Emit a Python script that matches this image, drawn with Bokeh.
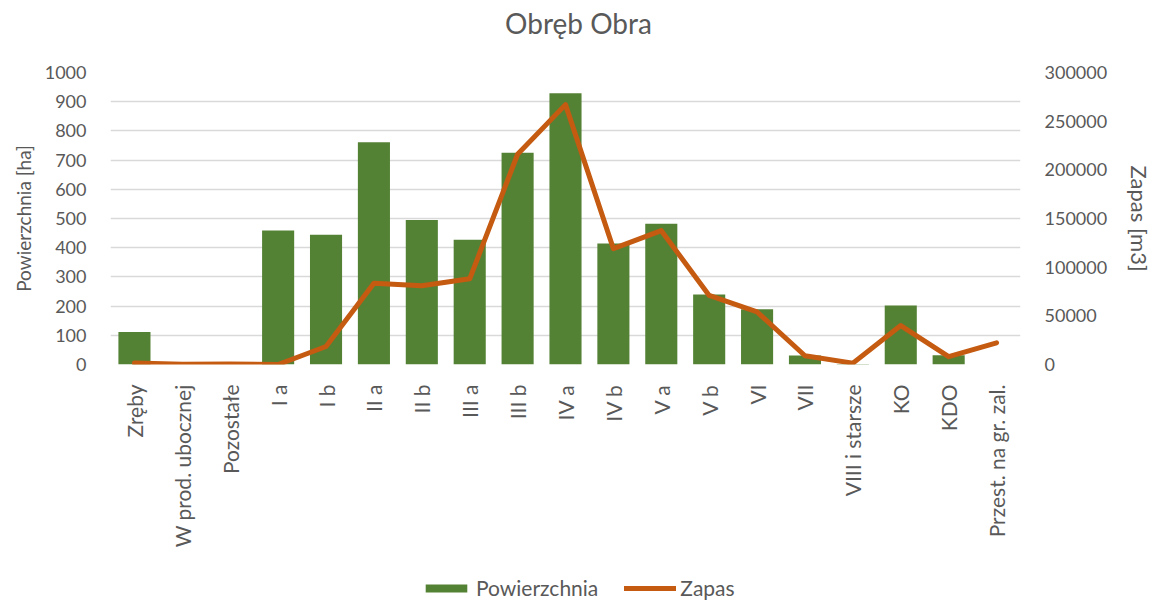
from bokeh.plotting import figure
from bokeh.layouts import column
from bokeh.models import (FactorRange, Range1d, LinearAxis, FixedTicker,
                          BasicTickFormatter, Legend, LegendItem, Label)
from bokeh.embed import file_html
from bokeh.resources import INLINE

title_text = "Obręb Obra"
categories = ["Zręby", "W prod. ubocznej", "Pozostałe", "I a", "I b", "II a", "II b",
              "III a", "III b", "IV a", "IV b", "V a", "V b", "VI", "VII",
              "VIII i starsze", "KO", "KDO", "Przest. na gr. zal."]
powierzchnia = [111, 0, 0, 459, 444, 761, 495, 427, 725, 929, 414, 482, 240, 189, 31, 2, 202, 32, 0]
zapas = [1500, 300, 500, 0, 18500, 83500, 81000, 88000, 216000, 267000, 119000, 137500,
         71000, 54000, 9000, 1400, 40000, 8000, 22300]
left_ticks = [0, 100, 200, 300, 400, 500, 600, 700, 800, 900, 1000]
right_ticks = [0, 50000, 100000, 150000, 200000, 250000, 300000]

FONT = "Lato"
GREY = "#595959"
GREEN = "#548235"
ORANGE = "#C55A11"


def strip(h):
    f = figure(x_range=Range1d(0, 1), y_range=Range1d(0, 1),
               frame_width=1145, frame_height=h, min_border=0,
               output_backend="svg", toolbar_location=None)
    f.axis.visible = False
    f.grid.visible = False
    f.outline_line_color = None
    return f


# title strip
tp = strip(58)
tp.add_layout(Label(x=468, y=36, x_units="screen", y_units="screen", text=title_text,
                    text_align="center", text_baseline="middle", text_font=FONT,
                    text_font_size="28px", text_color=GREY))

# main chart
p = figure(x_range=FactorRange(*categories, range_padding=0),
           y_range=Range1d(0, 1000),
           frame_width=910, frame_height=292,
           min_border_left=110, min_border_right=125, min_border_top=14, min_border_bottom=212,
           output_backend="svg", toolbar_location=None)

p.extra_y_ranges = {"zapas": Range1d(0, 300000)}

bars = p.vbar(x=categories, top=powierzchnia, width=0.67, fill_color=GREEN, line_color=None)
line = p.line(x=categories, y=zapas, y_range_name="zapas", line_width=5,
              color=ORANGE, line_join="round", line_cap="round")

p.outline_line_color = None
p.xgrid.grid_line_color = None
p.ygrid.grid_line_color = "#D9D9D9"
p.ygrid.grid_line_width = 1.3
p.ygrid.ticker = FixedTicker(ticks=left_ticks)

ya = p.yaxis[0]
ya.ticker = FixedTicker(ticks=left_ticks)
ya.axis_label = "Powierzchnia [ha]"

ra = LinearAxis(y_range_name="zapas", ticker=FixedTicker(ticks=right_ticks),
                formatter=BasicTickFormatter(use_scientific=False),
                axis_label="Zapas [m3]")
p.add_layout(ra, "right")

xa = p.xaxis[0]
xa.major_label_orientation = 3.14159265 / 2

for ax in [ya, ra, xa]:
    ax.axis_line_color = None
    ax.major_tick_line_color = None
    ax.minor_tick_line_color = None
    ax.major_label_text_font = FONT
    ax.major_label_text_font_size = "18px"
    ax.major_label_text_color = GREY
    ax.axis_label_text_font = FONT
    ax.axis_label_text_font_style = "normal"
    ax.axis_label_text_color = GREY

ya.axis_label_text_font_size = "19px"
ra.axis_label_text_font_size = "22px"
xa.major_label_text_font_size = "21px"
ya.major_label_standoff = 18
ra.major_label_standoff = 18
xa.major_label_standoff = 14
ya.axis_label_standoff = 7
ra.axis_label_standoff = 16

# legend strip below the chart (placeholder glyphs sit outside the strip's visible range)
lg = strip(24)
lb = lg.vbar(x=[-5], top=[-5], bottom=[-6], width=0.5, fill_color=GREEN, line_color=None)
ll = lg.line(x=[-5, -4], y=[-5, -5], line_width=5, color=ORANGE, line_cap="round")
legend = Legend(items=[LegendItem(label="Powierzchnia", renderers=[lb]),
                       LegendItem(label="Zapas", renderers=[ll])],
                orientation="horizontal", location=(420, 0),
                glyph_width=52, glyph_height=10, spacing=26,
                label_text_font=FONT, label_text_font_size="21px",
                label_text_color=GREY, border_line_color=None,
                background_fill_alpha=0, label_standoff=4, padding=0, margin=0)
lg.add_layout(legend, "center")

layout = column(tp, p, lg, spacing=0)
open("out.html", "w").write(file_html(layout, INLINE))
